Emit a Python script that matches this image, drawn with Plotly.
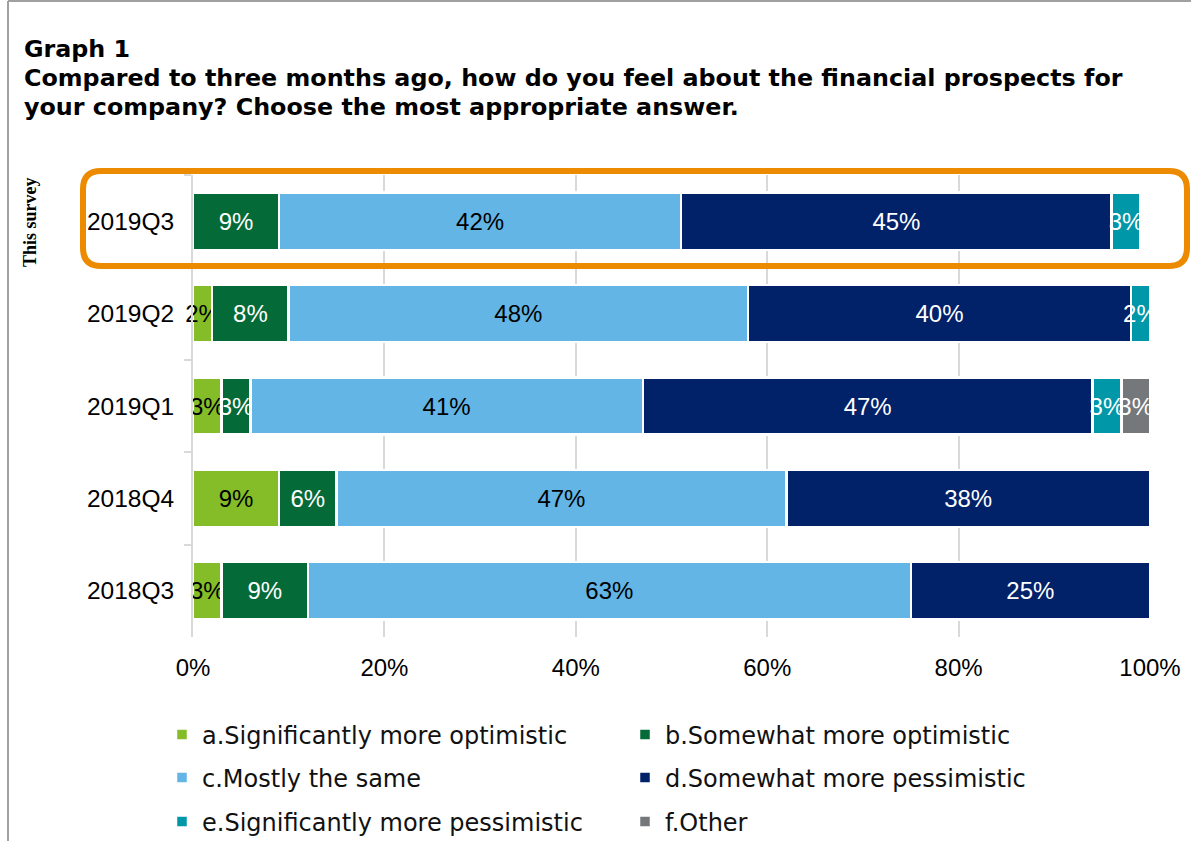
import plotly.graph_objects as go

# Survey waves, newest first (top of chart)
quarters = ["2019Q3", "2019Q2", "2019Q1", "2018Q4", "2018Q3"]

# Share of respondents per answer (%), one list per answer option
sig_more_optimistic = [None, 2, 3, 9, 3]
somewhat_more_optimistic = [9, 8, 3, 6, 9]
mostly_same = [42, 48, 41, 47, 63]
somewhat_more_pessimistic = [45, 40, 47, 38, 25]
sig_more_pessimistic = [3, 2, 3, None, None]
other = [None, None, 3, None, None]

answer_names = [
    "a.Significantly more optimistic",
    "b.Somewhat more optimistic",
    "c.Mostly the same",
    "d.Somewhat more pessimistic",
    "e.Significantly more pessimistic",
    "f.Other",
]
answer_values = [
    sig_more_optimistic,
    somewhat_more_optimistic,
    mostly_same,
    somewhat_more_pessimistic,
    sig_more_pessimistic,
    other,
]
answer_colors = ["#84BD28", "#046A38", "#62B5E5", "#012169", "#0097A9", "#75787B"]
label_colors = ["black", "white", "black", "white", "white", "white"]
legend_ids = ["legend", "legend", "legend2", "legend2", "legend3", "legend3"]

x_tickvals = [0, 20, 40, 60, 80, 100]
x_ticktext = ["0%", "20%", "40%", "60%", "80%", "100%"]

W, H = 1191, 841
L, R, T, B = 193, 41, 175, 204
PW, PH = W - L - R, H - T - B


def px(x):
    return (x - L) / PW


def py(y):
    return (H - B - y) / PH


def rounded_rect(x0, y0, x1, y1, r):
    pts = [
        ("M", [(x0 + r, y0)]),
        ("L", [(x1 - r, y0)]),
        ("Q", [(x1, y0), (x1, y0 + r)]),
        ("L", [(x1, y1 - r)]),
        ("Q", [(x1, y1), (x1 - r, y1)]),
        ("L", [(x0 + r, y1)]),
        ("Q", [(x0, y1), (x0, y1 - r)]),
        ("L", [(x0, y0 + r)]),
        ("Q", [(x0, y0), (x0 + r, y0)]),
    ]
    parts = []
    for cmd, coords in pts:
        parts.append(cmd + " ".join(f"{px(a):.5f},{py(b):.5f}" for a, b in coords))
    return " ".join(parts) + " Z"


fig = go.Figure()
for name, vals, col, tcol, lg in zip(answer_names, answer_values, answer_colors,
                                     label_colors, legend_ids):
    fig.add_trace(go.Bar(
        y=quarters, x=vals, name=name, orientation="h",
        marker=dict(color=col, line=dict(color="white", width=2.5)),
        texttemplate="%{x:.0f}%", textposition="inside", textangle=0,
        insidetextanchor="middle", constraintext="none",
        textfont=dict(family="Liberation Sans, Arial", size=24, color=tcol),
        legend=lg, cliponaxis=False, hoverinfo="skip",
    ))

legend_common = dict(
    orientation="h", xanchor="left", yanchor="middle", traceorder="normal",
    entrywidth=418, entrywidthmode="pixels",
    font=dict(family="DejaVu Sans", size=24, color="#111111"),
    bgcolor="rgba(0,0,0,0)", itemclick=False, itemdoubleclick=False,
)

fig.update_layout(
    width=W, height=H,
    margin=dict(l=L, r=R, t=T, b=B, autoexpand=False),
    paper_bgcolor="white", plot_bgcolor="white",
    barmode="stack", bargap=0.38,
    showlegend=True,
    legend=dict(x=px(162), y=py(735), **legend_common),
    legend2=dict(x=px(162), y=py(778), **legend_common),
    legend3=dict(x=px(162), y=py(822), **legend_common),
    xaxis=dict(
        range=[0, 100], tickmode="array", tickvals=x_tickvals, ticktext=x_ticktext,
        showgrid=True, gridcolor="#D9D9D9", gridwidth=2, zeroline=False,
        showline=False, ticks="", ticklabelstandoff=14,
        tickfont=dict(family="Liberation Sans, Arial", size=24, color="black"),
        fixedrange=True,
    ),
    yaxis=dict(
        categoryorder="array", categoryarray=quarters, autorange="reversed",
        showline=True, linecolor="#D9D9D9", linewidth=2,
        ticks="outside", tickson="boundaries", ticklen=7,
        tickcolor="#D9D9D9", tickwidth=2, ticklabelstandoff=12,
        showgrid=False,
        tickfont=dict(family="Liberation Sans, Arial", size=24.5, color="black"),
        fixedrange=True,
    ),
    font=dict(family="Liberation Sans, Arial", color="black"),
)

title_font = dict(family="DejaVu Sans", size=23.8, color="black")
fig.add_annotation(
    xref="paper", yref="paper", x=px(22), y=py(33), xanchor="left", yanchor="top",
    text="<b>Graph 1</b>", showarrow=False, font=title_font, align="left",
)
fig.add_annotation(
    xref="paper", yref="paper", x=px(22), y=py(62), xanchor="left", yanchor="top",
    text="<b>Compared to three months ago, how do you feel about the financial prospects for</b>",
    showarrow=False, font=title_font, align="left",
)
fig.add_annotation(
    xref="paper", yref="paper", x=px(22), y=py(91), xanchor="left", yanchor="top",
    text="<b>your company? Choose the most appropriate answer.</b>",
    showarrow=False, font=title_font, align="left",
)
fig.add_annotation(
    xref="paper", yref="paper", x=px(30), y=py(222), xanchor="center", yanchor="middle",
    text="<b>This survey</b>", textangle=-90, showarrow=False,
    font=dict(family="Liberation Serif, Times New Roman", size=18, color="black"),
)

# Highlight frame around the current survey wave
fig.add_shape(
    type="path", xref="paper", yref="paper",
    path=rounded_rect(83, 171, 1187, 266, 18),
    line=dict(color="#ED8B00", width=6), fillcolor="rgba(0,0,0,0)",
)

# Outer page frame (top and left edges)
fig.add_shape(type="line", xref="paper", yref="paper",
              x0=px(8), y0=py(1), x1=px(W), y1=py(1),
              line=dict(color="#A0A0A0", width=2))
fig.add_shape(type="line", xref="paper", yref="paper",
              x0=px(8), y0=py(1), x1=px(8), y1=py(H),
              line=dict(color="#A0A0A0", width=2))

fig.write_html("out.html")
